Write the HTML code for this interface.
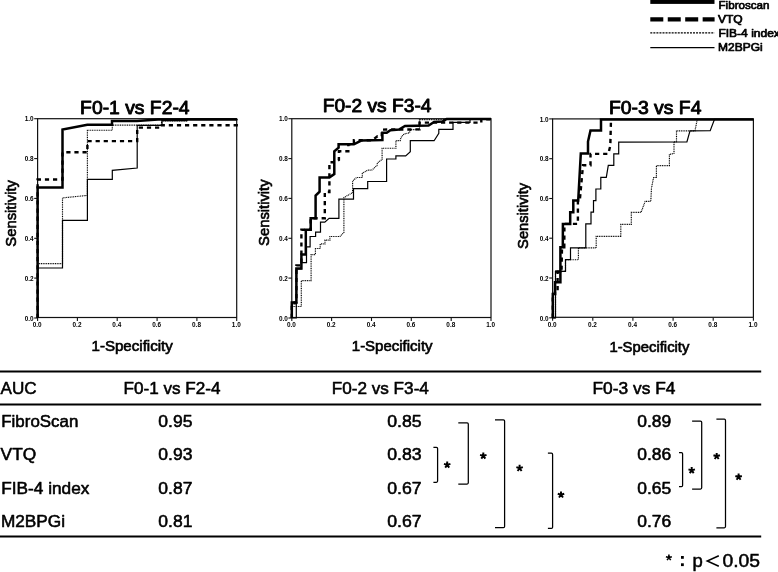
<!DOCTYPE html>
<html><head><meta charset="utf-8"><title>ROC curves</title>
<style>html,body{margin:0;padding:0;background:#fff;}svg{display:block;will-change:transform;}</style></head>
<body>
<svg width="778" height="572" viewBox="0 0 778 572" font-family="Liberation Sans, sans-serif" fill="#000">
<rect width="778" height="572" fill="#fff"/>
<g id="legend">
<rect x="650.3" y="-2" width="64.2" height="5.9" fill="#000"/>
<line x1="650.3" y1="19.4" x2="714.6" y2="19.4" stroke="#000" stroke-width="4.2" stroke-dasharray="13 4.45"/>
<line x1="650.3" y1="32.8" x2="714.5" y2="32.8" stroke="#000" stroke-width="1.3" stroke-dasharray="2 1.05"/>
<line x1="650.3" y1="47.6" x2="714.5" y2="47.6" stroke="#000" stroke-width="1.3"/>
<text x="718.5" y="8.9" font-size="11.5" stroke="#000" stroke-width="0.7" stroke-linejoin="round" textLength="51" lengthAdjust="spacingAndGlyphs">Fibroscan</text>
<text x="717.9" y="23" font-size="11.5" stroke="#000" stroke-width="0.7" stroke-linejoin="round" textLength="24.8" lengthAdjust="spacingAndGlyphs">VTQ</text>
<text x="718.4" y="37.2" font-size="11.5" stroke="#000" stroke-width="0.7" stroke-linejoin="round" textLength="61.5" lengthAdjust="spacingAndGlyphs">FIB-4 index</text>
<text x="718.1" y="51.4" font-size="11.5" stroke="#000" stroke-width="0.7" stroke-linejoin="round" textLength="44.6" lengthAdjust="spacingAndGlyphs">M2BPGi</text>
</g>
<g>
<rect x="37.6" y="118.7" width="199.1" height="198.8" fill="none" stroke="#111" stroke-width="1.2"/>
<line x1="34.2" y1="318.0" x2="37.6" y2="318.0" stroke="#111" stroke-width="1.1"/>
<line x1="37.6" y1="318.0" x2="37.6" y2="321.0" stroke="#111" stroke-width="1.1"/>
<text x="33.6" y="320.7" font-size="6.4" font-weight="bold" text-anchor="end" fill="#000">0.0</text>
<text x="37.2" y="327.3" font-size="6.4" font-weight="bold" text-anchor="middle" fill="#000">0.0</text>
<line x1="34.2" y1="278.1" x2="37.6" y2="278.1" stroke="#111" stroke-width="1.1"/>
<line x1="77.4" y1="318.0" x2="77.4" y2="321.0" stroke="#111" stroke-width="1.1"/>
<text x="33.6" y="280.8" font-size="6.4" font-weight="bold" text-anchor="end" fill="#000">0.2</text>
<text x="77.0" y="327.3" font-size="6.4" font-weight="bold" text-anchor="middle" fill="#000">0.2</text>
<line x1="34.2" y1="238.3" x2="37.6" y2="238.3" stroke="#111" stroke-width="1.1"/>
<line x1="117.2" y1="318.0" x2="117.2" y2="321.0" stroke="#111" stroke-width="1.1"/>
<text x="33.6" y="241.0" font-size="6.4" font-weight="bold" text-anchor="end" fill="#000">0.4</text>
<text x="116.8" y="327.3" font-size="6.4" font-weight="bold" text-anchor="middle" fill="#000">0.4</text>
<line x1="34.2" y1="198.4" x2="37.6" y2="198.4" stroke="#111" stroke-width="1.1"/>
<line x1="157.1" y1="318.0" x2="157.1" y2="321.0" stroke="#111" stroke-width="1.1"/>
<text x="33.6" y="201.1" font-size="6.4" font-weight="bold" text-anchor="end" fill="#000">0.6</text>
<text x="156.7" y="327.3" font-size="6.4" font-weight="bold" text-anchor="middle" fill="#000">0.6</text>
<line x1="34.2" y1="158.6" x2="37.6" y2="158.6" stroke="#111" stroke-width="1.1"/>
<line x1="196.9" y1="318.0" x2="196.9" y2="321.0" stroke="#111" stroke-width="1.1"/>
<text x="33.6" y="161.3" font-size="6.4" font-weight="bold" text-anchor="end" fill="#000">0.8</text>
<text x="196.5" y="327.3" font-size="6.4" font-weight="bold" text-anchor="middle" fill="#000">0.8</text>
<line x1="34.2" y1="118.7" x2="37.6" y2="118.7" stroke="#111" stroke-width="1.1"/>
<line x1="236.7" y1="318.0" x2="236.7" y2="321.0" stroke="#111" stroke-width="1.1"/>
<text x="33.6" y="121.4" font-size="6.4" font-weight="bold" text-anchor="end" fill="#000">1.0</text>
<text x="236.3" y="327.3" font-size="6.4" font-weight="bold" text-anchor="middle" fill="#000">1.0</text>
<path d="M37.6,318.0 L37.6,268.0 L62.5,268.0 L62.5,220.3 L87.4,220.3 L87.4,179.4 L112.3,179.4 L112.3,170.4 L137.2,168.0 L137.2,125.3 L162.0,125.3 L162.0,120.6 L187.0,120.6 L187.0,119.0 L236.7,119.0" fill="none" stroke="#000" stroke-width="1.2" stroke-linejoin="miter"/>
<path d="M37.6,318.0 L37.6,263.6 L62.5,263.6 L62.5,197.9 L87.4,195.4 L87.4,130.2 L112.3,130.2 L112.3,125.1 L161.6,125.1 L161.6,121.0 L187.0,121.0 L187.0,119.2" fill="none" stroke="#000" stroke-width="1.15" stroke-dasharray="1 0.75"/>
<path d="M37.6,318.0 L37.6,179.5 L62.5,179.5 L62.5,152.3 L87.4,152.3 L87.4,141.1 L137.2,141.1 L137.2,127.6 L162.0,127.6 L162.0,125.2 L236.7,125.2 L236.7,119.2" fill="none" stroke="#000" stroke-width="2.4" stroke-dasharray="4.2 3.9"/>
<path d="M37.6,318.0 L37.6,187.6 L62.5,187.6 L62.5,129.6 L87.3,124.8 L112.0,124.8 L112.0,120.9 L137.0,120.9 L158.0,119.4 L236.7,119.4" fill="none" stroke="#000" stroke-width="2.5" stroke-linejoin="miter"/>
<text x="80.1" y="113.5" font-size="19" textLength="109.5" lengthAdjust="spacingAndGlyphs" stroke="#000" stroke-width="0.9" stroke-linejoin="round">F0-1 vs F2-4</text>
<text x="91.5" y="350.5" font-size="15" textLength="81.3" lengthAdjust="spacingAndGlyphs" stroke="#000" stroke-width="0.65">1-Specificity</text>
<text transform="translate(15.7,246.70000000000002) rotate(-90)" font-size="15" textLength="66.7" lengthAdjust="spacingAndGlyphs" stroke="#000" stroke-width="0.65">Sensitivity</text>
</g>
<g>
<rect x="291.8" y="118.7" width="199.2" height="198.8" fill="none" stroke="#111" stroke-width="1.2"/>
<line x1="288.4" y1="318.0" x2="291.8" y2="318.0" stroke="#111" stroke-width="1.1"/>
<line x1="291.8" y1="318.0" x2="291.8" y2="321.0" stroke="#111" stroke-width="1.1"/>
<text x="287.8" y="320.7" font-size="6.4" font-weight="bold" text-anchor="end" fill="#000">0.0</text>
<text x="291.4" y="327.3" font-size="6.4" font-weight="bold" text-anchor="middle" fill="#000">0.0</text>
<line x1="288.4" y1="278.1" x2="291.8" y2="278.1" stroke="#111" stroke-width="1.1"/>
<line x1="331.6" y1="318.0" x2="331.6" y2="321.0" stroke="#111" stroke-width="1.1"/>
<text x="287.8" y="280.8" font-size="6.4" font-weight="bold" text-anchor="end" fill="#000">0.2</text>
<text x="331.2" y="327.3" font-size="6.4" font-weight="bold" text-anchor="middle" fill="#000">0.2</text>
<line x1="288.4" y1="238.3" x2="291.8" y2="238.3" stroke="#111" stroke-width="1.1"/>
<line x1="371.5" y1="318.0" x2="371.5" y2="321.0" stroke="#111" stroke-width="1.1"/>
<text x="287.8" y="241.0" font-size="6.4" font-weight="bold" text-anchor="end" fill="#000">0.4</text>
<text x="371.1" y="327.3" font-size="6.4" font-weight="bold" text-anchor="middle" fill="#000">0.4</text>
<line x1="288.4" y1="198.4" x2="291.8" y2="198.4" stroke="#111" stroke-width="1.1"/>
<line x1="411.3" y1="318.0" x2="411.3" y2="321.0" stroke="#111" stroke-width="1.1"/>
<text x="287.8" y="201.1" font-size="6.4" font-weight="bold" text-anchor="end" fill="#000">0.6</text>
<text x="410.9" y="327.3" font-size="6.4" font-weight="bold" text-anchor="middle" fill="#000">0.6</text>
<line x1="288.4" y1="158.6" x2="291.8" y2="158.6" stroke="#111" stroke-width="1.1"/>
<line x1="451.2" y1="318.0" x2="451.2" y2="321.0" stroke="#111" stroke-width="1.1"/>
<text x="287.8" y="161.3" font-size="6.4" font-weight="bold" text-anchor="end" fill="#000">0.8</text>
<text x="450.8" y="327.3" font-size="6.4" font-weight="bold" text-anchor="middle" fill="#000">0.8</text>
<line x1="288.4" y1="118.7" x2="291.8" y2="118.7" stroke="#111" stroke-width="1.1"/>
<line x1="491.0" y1="318.0" x2="491.0" y2="321.0" stroke="#111" stroke-width="1.1"/>
<text x="287.8" y="121.4" font-size="6.4" font-weight="bold" text-anchor="end" fill="#000">1.0</text>
<text x="490.6" y="327.3" font-size="6.4" font-weight="bold" text-anchor="middle" fill="#000">1.0</text>
<path d="M291.8,318.0 L296.3,318.0 L296.3,303.0 L296.3,268.9 L301.3,268.9 L301.3,262.6 L306.5,262.6 L306.5,246.9 L310.1,246.9 L310.1,236.5 L315.6,236.5 L315.6,232.2 L320.5,232.2 L320.5,222.1 L324.8,222.1 L329.1,218.4 L338.9,218.4 L338.9,199.2 L353.5,199.2 L353.5,188.7 L367.7,188.7 L367.7,181.5 L386.6,181.5 L386.6,159.0 L395.9,159.0 L395.9,155.9 L405.7,155.9 L410.3,151.8 L410.3,140.7 L434.1,140.7 L438.8,133.3 L438.8,129.4 L453.0,129.4 L453.0,122.3 L470.0,122.3 L470.0,119.2 L491.0,119.2" fill="none" stroke="#000" stroke-width="1.2" stroke-linejoin="miter"/>
<path d="M291.8,318.0 L291.8,306.5 L301.3,306.5 L301.3,280.6 L311.1,280.6 L311.1,254.6 L315.4,254.6 L315.4,248.5 L320.2,248.5 L320.2,243.9 L325.0,243.9 L325.0,240.1 L329.9,240.1 L329.9,236.5 L339.9,236.5 L343.9,232.5 L343.9,197.5 L352.6,192.7 L352.6,181.0 L356.6,177.5 L362.3,177.5 L362.3,173.3 L367.6,170.2 L372.0,170.0 L376.9,165.6 L377.5,162.8 L382.1,159.5 L382.1,148.2 L395.9,148.2 L395.9,140.6 L400.2,140.6 L401.0,137.5 L404.0,134.0 L409.4,132.8 L410.6,129.6 L419.5,129.6 L419.5,119.6 L444.0,119.6 L444.0,119.0" fill="none" stroke="#000" stroke-width="1.15" stroke-dasharray="1 0.75"/>
<path d="M291.8,318.0 L291.8,305.0 L294.6,305.0 L294.6,302.4 L296.4,302.4 L296.4,265.4 L301.4,265.4 L301.4,229.8 L305.8,229.8 L310.7,229.8 L310.7,218.2 L324.8,218.2 L324.8,192.0 L329.4,192.0 L329.4,162.3 L336.0,162.3 L338.9,160.0 L338.9,151.3 L348.3,151.3 L348.3,144.3 L353.9,144.3 L353.9,140.3 L372.0,140.3 L377.5,136.3 L381.8,136.3 L381.8,129.6 L419.5,129.4 L419.5,122.6 L481.3,122.6 L481.3,119.2 L491.0,119.2" fill="none" stroke="#000" stroke-width="2.4" stroke-dasharray="4.2 3.9"/>
<path d="M291.8,318.0 L291.8,302.4 L296.4,302.4 L296.4,268.5 L301.4,268.5 L301.4,254.6 L305.8,254.6 L305.8,229.8 L310.7,229.8 L310.7,218.2 L315.6,218.2 L315.6,195.5 L319.6,191.7 L319.6,177.4 L329.4,177.4 L334.3,174.0 L334.3,151.3 L338.6,147.6 L338.6,144.3 L353.9,144.3 L361.2,140.6 L382.4,140.0 L382.4,132.8 L386.7,132.8 L390.4,130.2 L399.0,129.6 L405.0,125.9 L428.6,125.5 L434.1,122.0 L442.7,121.4 L446.7,119.0 L491.0,119.0" fill="none" stroke="#000" stroke-width="2.5" stroke-linejoin="miter"/>
<text x="322.7" y="111.7" font-size="19" textLength="108.8" lengthAdjust="spacingAndGlyphs" stroke="#000" stroke-width="0.9" stroke-linejoin="round">F0-2 vs F3-4</text>
<text x="351.8" y="350.5" font-size="15" textLength="80.8" lengthAdjust="spacingAndGlyphs" stroke="#000" stroke-width="0.65">1-Specificity</text>
<text transform="translate(269.2,245.9) rotate(-90)" font-size="15" textLength="66.5" lengthAdjust="spacingAndGlyphs" stroke="#000" stroke-width="0.65">Sensitivity</text>
</g>
<g>
<rect x="552.6" y="118.9" width="200.8" height="198.4" fill="none" stroke="#111" stroke-width="1.2"/>
<line x1="549.2" y1="317.8" x2="552.6" y2="317.8" stroke="#111" stroke-width="1.1"/>
<line x1="552.6" y1="317.8" x2="552.6" y2="320.8" stroke="#111" stroke-width="1.1"/>
<text x="548.6" y="320.5" font-size="6.4" font-weight="bold" text-anchor="end" fill="#000">0.0</text>
<text x="552.2" y="327.1" font-size="6.4" font-weight="bold" text-anchor="middle" fill="#000">0.0</text>
<line x1="549.2" y1="278.0" x2="552.6" y2="278.0" stroke="#111" stroke-width="1.1"/>
<line x1="592.8" y1="317.8" x2="592.8" y2="320.8" stroke="#111" stroke-width="1.1"/>
<text x="548.6" y="280.7" font-size="6.4" font-weight="bold" text-anchor="end" fill="#000">0.2</text>
<text x="592.4" y="327.1" font-size="6.4" font-weight="bold" text-anchor="middle" fill="#000">0.2</text>
<line x1="549.2" y1="238.2" x2="552.6" y2="238.2" stroke="#111" stroke-width="1.1"/>
<line x1="632.9" y1="317.8" x2="632.9" y2="320.8" stroke="#111" stroke-width="1.1"/>
<text x="548.6" y="240.9" font-size="6.4" font-weight="bold" text-anchor="end" fill="#000">0.4</text>
<text x="632.5" y="327.1" font-size="6.4" font-weight="bold" text-anchor="middle" fill="#000">0.4</text>
<line x1="549.2" y1="198.5" x2="552.6" y2="198.5" stroke="#111" stroke-width="1.1"/>
<line x1="673.1" y1="317.8" x2="673.1" y2="320.8" stroke="#111" stroke-width="1.1"/>
<text x="548.6" y="201.2" font-size="6.4" font-weight="bold" text-anchor="end" fill="#000">0.6</text>
<text x="672.7" y="327.1" font-size="6.4" font-weight="bold" text-anchor="middle" fill="#000">0.6</text>
<line x1="549.2" y1="158.7" x2="552.6" y2="158.7" stroke="#111" stroke-width="1.1"/>
<line x1="713.2" y1="317.8" x2="713.2" y2="320.8" stroke="#111" stroke-width="1.1"/>
<text x="548.6" y="161.4" font-size="6.4" font-weight="bold" text-anchor="end" fill="#000">0.8</text>
<text x="712.8" y="327.1" font-size="6.4" font-weight="bold" text-anchor="middle" fill="#000">0.8</text>
<line x1="549.2" y1="118.9" x2="552.6" y2="118.9" stroke="#111" stroke-width="1.1"/>
<line x1="753.4" y1="317.8" x2="753.4" y2="320.8" stroke="#111" stroke-width="1.1"/>
<text x="548.6" y="121.6" font-size="6.4" font-weight="bold" text-anchor="end" fill="#000">1.0</text>
<text x="753.0" y="327.1" font-size="6.4" font-weight="bold" text-anchor="middle" fill="#000">1.0</text>
<path d="M552.6,317.8 L555.5,317.8 L555.5,271.4 L565.5,271.4 L565.5,259.7 L570.5,259.7 L570.5,247.8 L585.8,247.8 L585.8,223.9 L591.0,223.9 L591.0,212.2 L593.5,212.2 L593.5,200.6 L595.9,200.6 L595.9,189.0 L600.8,189.0 L600.8,177.3 L606.3,177.3 L608.3,165.3 L613.8,165.3 L613.8,153.9 L618.7,153.9 L618.7,142.2 L686.9,142.0 L690.0,130.9 L710.2,130.7 L714.5,119.4 L753.4,119.4" fill="none" stroke="#000" stroke-width="1.2" stroke-linejoin="miter"/>
<path d="M552.6,317.8 L555.5,317.8 L555.5,271.4 L565.5,271.4 L565.5,259.7 L578.4,259.7 L578.4,247.8 L596.2,247.8 L596.2,236.3 L620.8,236.3 L620.8,224.3 L631.3,224.3 L631.3,212.4 L641.0,212.4 L645.2,201.3 L650.8,201.3 L651.5,188.0 L653.6,177.5 L656.4,177.5 L656.4,165.6 L669.4,165.6 L669.4,154.6 L674.0,153.3 L674.0,141.7 L676.5,141.7 L676.5,130.9 L694.9,130.9 L697.3,119.4" fill="none" stroke="#000" stroke-width="1.15" stroke-dasharray="1 0.75"/>
<path d="M552.8,317.8 L552.8,293.9 L555.0,293.9 L555.0,290.2 L557.6,290.2 L557.6,271.8 L561.5,271.8 L562.0,247.3 L564.3,247.3 L564.4,223.9 L577.9,223.9 L577.9,200.6 L579.8,200.6 L583.0,165.3 L590.5,165.3 L590.5,153.9 L608.3,153.9 L610.3,145.8 L611.0,119.2" fill="none" stroke="#000" stroke-width="2.4" stroke-dasharray="4.2 3.9"/>
<path d="M552.8,317.8 L552.8,293.9 L555.0,293.9 L555.0,282.2 L560.4,282.2 L560.4,247.3 L562.8,247.3 L562.9,223.9 L570.2,223.9 L570.2,212.2 L573.3,212.2 L573.3,200.6 L578.2,200.6 L580.8,153.6 L588.0,153.6 L588.0,141.6 L590.5,130.4 L601.0,130.4 L601.0,119.4 L753.4,119.4" fill="none" stroke="#000" stroke-width="2.5" stroke-linejoin="miter"/>
<path d="M555.2,271.7 L561.3,271.7" fill="none" stroke="#000" stroke-width="2.3"/>
<text x="608.9" y="113.5" font-size="19" textLength="92.6" lengthAdjust="spacingAndGlyphs" stroke="#000" stroke-width="0.9" stroke-linejoin="round">F0-3 vs F4</text>
<text x="609.4" y="351.7" font-size="15" textLength="80.0" lengthAdjust="spacingAndGlyphs" stroke="#000" stroke-width="0.65">1-Specificity</text>
<text transform="translate(528.0,248.9) rotate(-90)" font-size="15" textLength="66.1" lengthAdjust="spacingAndGlyphs" stroke="#000" stroke-width="0.65">Sensitivity</text>
</g>
<g id="table">
<line x1="0" y1="371.5" x2="761.2" y2="371.5" stroke="#000" stroke-width="1.8"/>
<line x1="0" y1="404.5" x2="761.2" y2="404.5" stroke="#000" stroke-width="1.8"/>
<line x1="0" y1="536.5" x2="761.2" y2="536.5" stroke="#000" stroke-width="1.8"/>
<text x="0.6" y="393.9" font-size="16.5" stroke="#000" stroke-width="0.55" stroke-linejoin="round" textLength="36.1" lengthAdjust="spacingAndGlyphs">AUC</text>
<text x="123.5" y="393.9" font-size="16.5" stroke="#000" stroke-width="0.55" stroke-linejoin="round" textLength="97.0" lengthAdjust="spacingAndGlyphs">F0-1 vs F2-4</text>
<text x="331.7" y="393.9" font-size="16.5" stroke="#000" stroke-width="0.55" stroke-linejoin="round" textLength="97.2" lengthAdjust="spacingAndGlyphs">F0-2 vs F3-4</text>
<text x="592.5" y="394.1" font-size="16.5" stroke="#000" stroke-width="0.55" stroke-linejoin="round" textLength="82.9" lengthAdjust="spacingAndGlyphs">F0-3 vs F4</text>
<text x="1.3" y="427.4" font-size="16.5" stroke="#000" stroke-width="0.55" stroke-linejoin="round" textLength="77.0" lengthAdjust="spacingAndGlyphs">FibroScan</text>
<text x="158.3" y="427.4" font-size="16.5" stroke="#000" stroke-width="0.55" stroke-linejoin="round" textLength="34.1" lengthAdjust="spacingAndGlyphs">0.95</text>
<text x="387.3" y="427.4" font-size="16.5" stroke="#000" stroke-width="0.55" stroke-linejoin="round" textLength="34.4" lengthAdjust="spacingAndGlyphs">0.85</text>
<text x="637.3" y="427.4" font-size="16.5" stroke="#000" stroke-width="0.55" stroke-linejoin="round" textLength="34.0" lengthAdjust="spacingAndGlyphs">0.89</text>
<text x="0.6" y="460.1" font-size="16.5" stroke="#000" stroke-width="0.55" stroke-linejoin="round" textLength="35.6" lengthAdjust="spacingAndGlyphs">VTQ</text>
<text x="158.3" y="460.1" font-size="16.5" stroke="#000" stroke-width="0.55" stroke-linejoin="round" textLength="34.1" lengthAdjust="spacingAndGlyphs">0.93</text>
<text x="387.3" y="460.1" font-size="16.5" stroke="#000" stroke-width="0.55" stroke-linejoin="round" textLength="34.4" lengthAdjust="spacingAndGlyphs">0.83</text>
<text x="637.3" y="460.1" font-size="16.5" stroke="#000" stroke-width="0.55" stroke-linejoin="round" textLength="34.0" lengthAdjust="spacingAndGlyphs">0.86</text>
<text x="1.3" y="493.5" font-size="16.5" stroke="#000" stroke-width="0.55" stroke-linejoin="round" textLength="88.1" lengthAdjust="spacingAndGlyphs">FIB-4 index</text>
<text x="158.3" y="493.5" font-size="16.5" stroke="#000" stroke-width="0.55" stroke-linejoin="round" textLength="34.1" lengthAdjust="spacingAndGlyphs">0.87</text>
<text x="387.3" y="493.5" font-size="16.5" stroke="#000" stroke-width="0.55" stroke-linejoin="round" textLength="34.4" lengthAdjust="spacingAndGlyphs">0.67</text>
<text x="637.3" y="493.5" font-size="16.5" stroke="#000" stroke-width="0.55" stroke-linejoin="round" textLength="34.0" lengthAdjust="spacingAndGlyphs">0.65</text>
<text x="0.9" y="526.6" font-size="16.5" stroke="#000" stroke-width="0.55" stroke-linejoin="round" textLength="64.1" lengthAdjust="spacingAndGlyphs">M2BPGi</text>
<text x="158.3" y="526.6" font-size="16.5" stroke="#000" stroke-width="0.55" stroke-linejoin="round" textLength="34.1" lengthAdjust="spacingAndGlyphs">0.81</text>
<text x="387.3" y="526.6" font-size="16.5" stroke="#000" stroke-width="0.55" stroke-linejoin="round" textLength="34.4" lengthAdjust="spacingAndGlyphs">0.67</text>
<text x="637.3" y="526.6" font-size="16.5" stroke="#000" stroke-width="0.55" stroke-linejoin="round" textLength="34.0" lengthAdjust="spacingAndGlyphs">0.76</text>
<path d="M433.4,447.4 L436.40000000000003,447.4 Q437.6,447.4 437.6,448.59999999999997 L437.6,481.1 Q437.6,482.3 436.40000000000003,482.3 L433.4,482.3" fill="none" stroke="#000" stroke-width="1.25"/>
<path d="M458.3,422.8 L467.1,422.8 Q468.3,422.8 468.3,424.0 L468.3,482.8 Q468.3,484.0 467.1,484.0 L458.3,484.0" fill="none" stroke="#000" stroke-width="1.25"/>
<path d="M495.0,419.9 L503.40000000000003,419.9 Q504.6,419.9 504.6,421.09999999999997 L504.6,526.4 Q504.6,527.6 503.40000000000003,527.6 L495.0,527.6" fill="none" stroke="#000" stroke-width="1.25"/>
<path d="M547.9,453.2 L551.4,453.2 Q552.6,453.2 552.6,454.4 L552.6,527.1999999999999 Q552.6,528.4 551.4,528.4 L547.9,528.4" fill="none" stroke="#000" stroke-width="1.25"/>
<path d="M679.0,452.5 L681.4,452.5 Q682.6,452.5 682.6,453.7 L682.6,485.40000000000003 Q682.6,486.6 681.4,486.6 L679.0,486.6" fill="none" stroke="#000" stroke-width="1.25"/>
<path d="M692.1,421.1 L700.5,421.1 Q701.7,421.1 701.7,422.3 L701.7,487.8 Q701.7,489.0 700.5,489.0 L692.1,489.0" fill="none" stroke="#000" stroke-width="1.25"/>
<path d="M716.4,419.2 L724.3,419.2 Q725.5,419.2 725.5,420.4 L725.5,526.5999999999999 Q725.5,527.8 724.3,527.8 L716.4,527.8" fill="none" stroke="#000" stroke-width="1.25"/>
<path d="M447.2,464.9 L447.20,461.50 M447.2,464.9 L450.43,463.85 M447.2,464.9 L449.20,467.65 M447.2,464.9 L445.20,467.65 M447.2,464.9 L443.97,463.85" stroke="#000" stroke-width="1.95" fill="none"/>
<path d="M483.3,455.9 L483.30,452.50 M483.3,455.9 L486.53,454.85 M483.3,455.9 L485.30,458.65 M483.3,455.9 L481.30,458.65 M483.3,455.9 L480.07,454.85" stroke="#000" stroke-width="1.95" fill="none"/>
<path d="M519.6,468.2 L519.60,464.80 M519.6,468.2 L522.83,467.15 M519.6,468.2 L521.60,470.95 M519.6,468.2 L517.60,470.95 M519.6,468.2 L516.37,467.15" stroke="#000" stroke-width="1.95" fill="none"/>
<path d="M561.0,494.8 L561.00,491.40 M561.0,494.8 L564.23,493.75 M561.0,494.8 L563.00,497.55 M561.0,494.8 L559.00,497.55 M561.0,494.8 L557.77,493.75" stroke="#000" stroke-width="1.95" fill="none"/>
<path d="M691.7,470.4 L691.70,467.00 M691.7,470.4 L694.93,469.35 M691.7,470.4 L693.70,473.15 M691.7,470.4 L689.70,473.15 M691.7,470.4 L688.47,469.35" stroke="#000" stroke-width="1.95" fill="none"/>
<path d="M716.7,456.3 L716.70,452.90 M716.7,456.3 L719.93,455.25 M716.7,456.3 L718.70,459.05 M716.7,456.3 L714.70,459.05 M716.7,456.3 L713.47,455.25" stroke="#000" stroke-width="1.95" fill="none"/>
<path d="M738.6,477.0 L738.60,473.60 M738.6,477.0 L741.83,475.95 M738.6,477.0 L740.60,479.75 M738.6,477.0 L736.60,479.75 M738.6,477.0 L735.37,475.95" stroke="#000" stroke-width="1.95" fill="none"/>
<path d="M668.9,557.6 L668.90,554.50 M668.9,557.6 L671.85,556.64 M668.9,557.6 L670.72,560.11 M668.9,557.6 L667.08,560.11 M668.9,557.6 L665.95,556.64" stroke="#000" stroke-width="1.6" fill="none"/>
<rect x="681" y="556" width="2.8" height="2.8"/><rect x="681" y="563.3" width="2.8" height="2.8"/>
<text x="692.4" y="566.7" font-size="18.5" stroke="#000" stroke-width="0.5">p</text>
<path d="M718.8,555.7 L707.2,561 L718.8,566.3" fill="none" stroke="#000" stroke-width="1.5"/>
<text x="722.4" y="566.7" font-size="18.5" stroke="#000" stroke-width="0.5" textLength="37.6" lengthAdjust="spacingAndGlyphs">0.05</text>
</g>
</svg>
</body></html>
